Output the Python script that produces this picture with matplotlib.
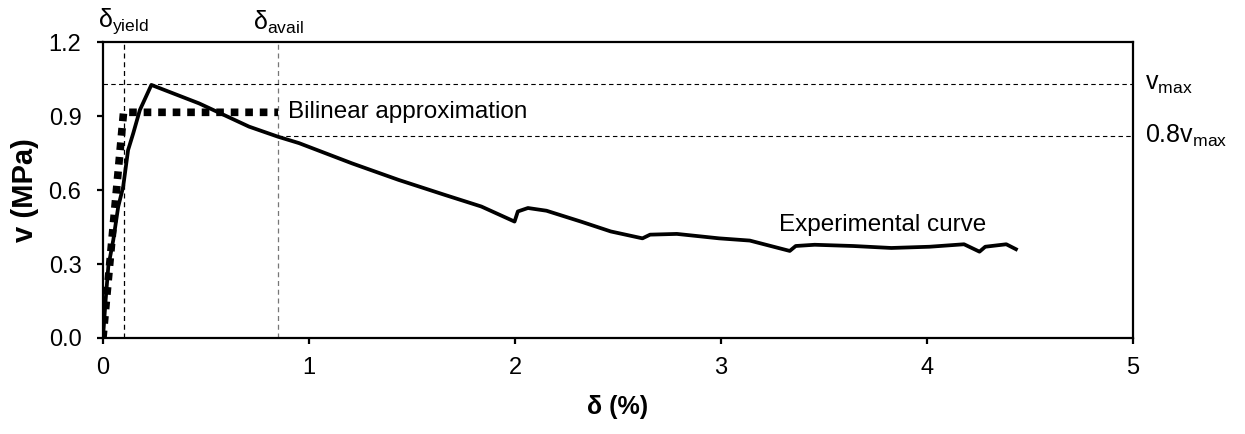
import matplotlib
matplotlib.use("Agg")
import matplotlib.pyplot as plt

plt.rcParams['font.family'] = ['Liberation Sans', 'DejaVu Sans']
plt.rcParams['mathtext.fontset'] = 'custom'
plt.rcParams['mathtext.rm'] = 'Liberation Sans'
plt.rcParams['mathtext.it'] = 'Liberation Sans:italic'

# Experimental curve (drift %, shear stress MPa)
exp_x = [0.0, 0.013, 0.026, 0.05, 0.074, 0.098, 0.122, 0.147, 0.179, 0.235,
         0.467, 0.709, 0.85, 0.952, 1.209, 1.435, 1.66, 1.837, 1.998, 2.014,
         2.063, 2.153, 2.32, 2.465, 2.619, 2.656, 2.786, 2.991, 3.14, 3.334,
         3.363, 3.455, 3.641, 3.827, 4.013, 4.18, 4.255, 4.283, 4.385, 4.432]
exp_y = [0.0, 0.154, 0.29, 0.397, 0.532, 0.613, 0.762, 0.83, 0.924, 1.026,
         0.951, 0.857, 0.816, 0.79, 0.708, 0.641, 0.58, 0.533, 0.472, 0.513,
         0.527, 0.516, 0.472, 0.432, 0.404, 0.419, 0.422, 0.404, 0.395, 0.353,
         0.373, 0.378, 0.373, 0.365, 0.37, 0.38, 0.35, 0.37, 0.38, 0.36]

# Bilinear approximation
bil_x = [0.0, 0.1, 0.85]
bil_y = [0.0, 0.915, 0.915]

d_yield = 0.1
d_avail = 0.85
v_max = 1.03
v_08 = 0.82

fig = plt.figure(figsize=(12.45, 4.34), dpi=100)
ax = fig.add_axes([0.0827, 0.2212, 0.8273, 0.682])

ax.plot(exp_x, exp_y, color='black', lw=2.7, solid_joinstyle='round', zorder=3)
ax.plot(bil_x, bil_y, color='black', lw=5.5, linestyle=(0, (1, 0.9)),
        dash_capstyle='butt', zorder=4)

# reference lines
ax.plot([d_yield, d_yield], [0, 1.2], color='black', lw=0.9, dashes=(4, 3), zorder=2)
ax.plot([d_avail, d_avail], [0, 1.2], color='#777777', lw=0.9, dashes=(4, 3), zorder=2)
ax.plot([0, 5], [v_max, v_max], color='black', lw=0.8, dashes=(4, 3), zorder=2)
ax.plot([d_avail, 5], [v_08, v_08], color='black', lw=0.8, dashes=(4, 3), zorder=2)

ax.set_xlim(0, 5)
ax.set_ylim(0, 1.2)
ax.set_xticks([0, 1, 2, 3, 4, 5])
ax.set_xticklabels(['0', '1', '2', '3', '4', '5'])
ax.set_yticks([0.0, 0.3, 0.6, 0.9, 1.2])
ax.set_yticklabels(['0.0', '0.3', '0.6', '0.9', '1.2'])
for s in ax.spines.values():
    s.set_linewidth(1.6)
ax.tick_params(direction='out', length=4.5, width=1.6, labelsize=17)
ax.tick_params(axis='x', pad=9)
ax.tick_params(axis='y', pad=11)

ax.set_xlabel('δ (%)', fontsize=18, fontweight='bold', labelpad=12)
ax.set_ylabel('v (MPa)', fontsize=21, fontweight='bold', labelpad=7)

ax.text(0.9, 0.915, 'Bilinear approximation', fontsize=17.5, va='center', ha='left')
ax.text(3.28, 0.458, 'Experimental curve', fontsize=17.5, va='center', ha='left')

ax.text(d_yield, 1.226, r'δ$_{\mathrm{yield}}$', fontsize=18, ha='center', va='bottom')
ax.text(d_avail, 1.226, r'δ$_{\mathrm{avail}}$', fontsize=18, ha='center', va='bottom')
ax.text(5.06, v_max, r'v$_{\mathrm{max}}$', fontsize=18, ha='left', va='center', clip_on=False)
ax.text(5.06, v_08, r'0.8v$_{\mathrm{max}}$', fontsize=18, ha='left', va='center', clip_on=False)

fig.savefig('out.png', dpi=100)
